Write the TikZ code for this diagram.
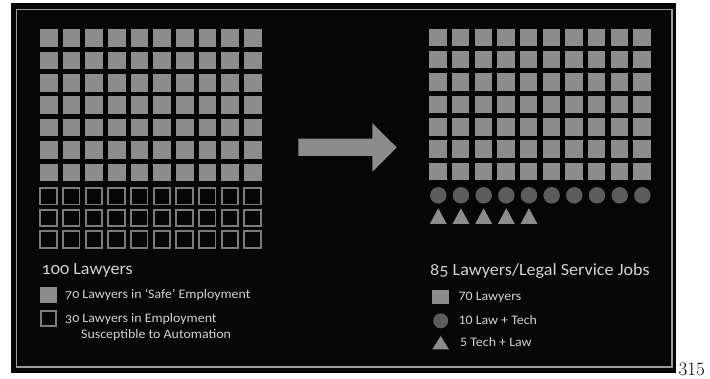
\documentclass[tikz,border=0pt]{standalone}
\usepackage{fontspec}
\setmainfont{Carlito}[FakeStretch=1.07]
\newfontfamily\oldnum{Carlito}[Numbers=OldStyle,FakeStretch=1.07]
\newfontfamily\titlefont{Carlito}[Numbers=OldStyle,FakeStretch=1.06]
\usetikzlibrary{shapes.geometric}
\definecolor{panel}{HTML}{060606}
\definecolor{frameline}{HTML}{9C9C9C}
\definecolor{sqgray}{HTML}{8C8C8C}
\definecolor{outgray}{HTML}{7C7C7C}
\definecolor{circgray}{HTML}{5C5C5C}
\definecolor{txtgray}{HTML}{D2D2D2}
\tikzset{
  safebox/.style={rectangle,fill=sqgray,minimum size=17.5pt,inner sep=0pt},
  autobox/.style={rectangle,draw=outgray,line width=1.8pt,minimum size=16.5pt,inner sep=0pt},
  lawtech/.style={circle,fill=circgray,minimum size=16.5pt,inner sep=0pt},
  title/.style={text=txtgray,inner sep=0pt,anchor=base west,font=\titlefont\fontsize{17.1}{19}\selectfont},
  item/.style={text=txtgray,inner sep=0pt,anchor=base west,font=\fontsize{13}{15}\selectfont},
}
\begin{document}
\begin{tikzpicture}[x=1pt,y=-1pt]
\useasboundingbox (0,0) rectangle (710,379);
\fill[white] (0,0) rectangle (710,379);
\fill[panel] (11,3) rectangle (676,373);
\draw[frameline,line width=1.6pt] (16.5,9.5) rectangle (672,367);
% left grid
\foreach \r in {0,...,6}{
  \foreach \c in {0,...,9}{
    \node[safebox] (L-\r-\c) at ({48.85+22.67*\c},{38+22.4*\r}) {};
  }
}
\foreach \r/\y in {0/196.2,1/217.9,2/239.4}{
  \foreach \c in {0,...,9}{
    \node[autobox] (A-\r-\c) at ({48.6+22.67*\c},\y) {};
  }
}
% right grid
\foreach \r in {0,...,6}{
  \foreach \c in {0,...,9}{
    \node[safebox] (R-\r-\c) at ({438+22.67*\c},{37.4+22.35*\r}) {};
  }
}
\foreach \c in {0,...,9}{
  \node[lawtech] (C-\c) at ({438.3+22.67*\c},195.3) {};
}
\foreach \c in {0,...,4}{
  \fill[sqgray] ({438.3+22.67*\c-8.5},224) -- ({438.3+22.67*\c+8.5},224) -- ({438.3+22.67*\c},208.3) -- cycle;
}
% arrow
\fill[sqgray] (298.3,138.7) -- (372.3,138.7) -- (372.3,123.3) -- (396.7,147.4) -- (372.3,171.7) -- (372.3,156) -- (298.3,156) -- cycle;
% left legend
\node[title] (t1) at (41.5,274.3) {100 Lawyers};
\node[safebox,minimum width=17pt,minimum height=16pt] (k1) at (48.6,294.7) {};
\node[item] (k1t) at (65,298.6) {\oldnum 70 Lawyers in ‘Safe’ Employment};
\node[autobox,minimum width=15.5pt,minimum height=15pt] (k2) at (48.6,318.3) {};
\node[item] (k2t) at (65,322.4) {\oldnum 30 Lawyers in Employment};
\node[item] (k2u) at (81,338.4) {Susceptible to Automation};
% right legend
\node[title] (t2) at (430,276) {85 Lawyers/Legal Service Jobs};
\node[safebox,minimum width=16.7pt,minimum height=14.3pt] (k3) at (440.7,297.1) {};
\node[item] (k3t) at (458.3,300.8) {70 Lawyers};
\node[lawtech,minimum size=15pt] (k4) at (440.7,320.8) {};
\node[item] (k4t) at (458.3,324.3) {10 Law + Tech};
\fill[sqgray] (432.3,349.3) -- (449,349.3) -- (440.7,336) -- cycle;
\node[item] (k5t) at (460,346.9) {5 Tech + Law};
% page number
\node[anchor=base west,inner sep=0pt,font=\fontfamily{lmr}\fontsize{19}{22}\selectfont] (pg) at (678.5,376) {315};
\end{tikzpicture}
\end{document}
